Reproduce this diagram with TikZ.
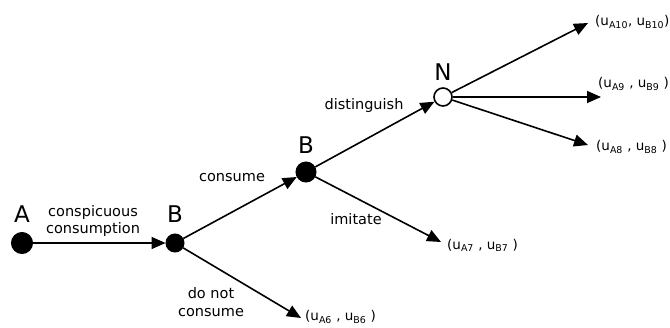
\documentclass[tikz,border=0pt]{standalone}
\usepackage{fontspec}
\setmainfont{DejaVu Sans}
\usetikzlibrary{arrows.meta}
\begin{document}
\begin{tikzpicture}[x=1pt,y=-1pt,
  edge/.style={line width=1.6pt, -{Triangle[length=14pt,width=12pt]}},
  dot/.style={circle, fill=black, draw=black, line width=1pt, inner sep=0pt},
  chance/.style={circle, fill=white, draw=black, line width=1.6pt, inner sep=0pt, minimum size=18pt},
  player/.style={font=\fontsize{23}{27}\selectfont, inner sep=0pt},
  act/.style={font=\fontsize{14.5}{17.5}\selectfont, align=center, inner sep=0pt},
  pay/.style={font=\fontsize{13.5}{16}\selectfont, anchor=west, inner sep=0pt}]
\useasboundingbox (0,0) rectangle (670,327);

% decision nodes
\node[dot, minimum size=21pt] (A)  at (22,243)  {};
\node[dot, minimum size=18pt] (B1) at (175,243) {};
\node[dot, minimum size=20pt] (B2) at (306,172) {};
\node[chance] (N) at (443,97) {};

\node[player] (lA)  at (22,214)  {A};
\node[player] (lB1) at (175,214) {B};
\node[player] (lB2) at (306,145) {B};
\node[player] (lN)  at (443,72)  {N};

% end points of the terminal branches
\coordinate (t6)  at (301,318);
\coordinate (t7)  at (441,242);
\coordinate (t10) at (588,23);
\coordinate (t9)  at (601,97);
\coordinate (t8)  at (588,145);

% branches
\draw[edge] (A)  -- (B1);
\draw[edge] (B1) -- (B2);
\draw[edge] (B1) -- (t6);
\draw[edge] (B2) -- (N);
\draw[edge] (B2) -- (t7);
\draw[edge] (N)  -- (t10);
\draw[edge] (N)  -- (t9);
\draw[edge] (N)  -- (t8);

% action labels
\node[act] (aCC) at (93,221) {conspicuous\\consumption};
\node[act] (aC)  at (232,178) {consume};
\node[act] (aDN) at (211,302) {do not\\consume};
\node[act] (aI)  at (356,219) {imitate};
\node[act] (aD)  at (364,105) {distinguish};

% payoffs
\node[pay] (p6)  at (305,317) {(u\textsubscript{A6} , u\textsubscript{B6} )};
\node[pay] (p7)  at (447,245) {(u\textsubscript{A7} , u\textsubscript{B7} )};
\node[pay] (p10) at (595,22)  {(u\textsubscript{A10}, u\textsubscript{B10})};
\node[pay] (p9)  at (598,84)  {(u\textsubscript{A9} , u\textsubscript{B9} )};
\node[pay] (p8)  at (596,147) {(u\textsubscript{A8} , u\textsubscript{B8} )};
\end{tikzpicture}
\end{document}
